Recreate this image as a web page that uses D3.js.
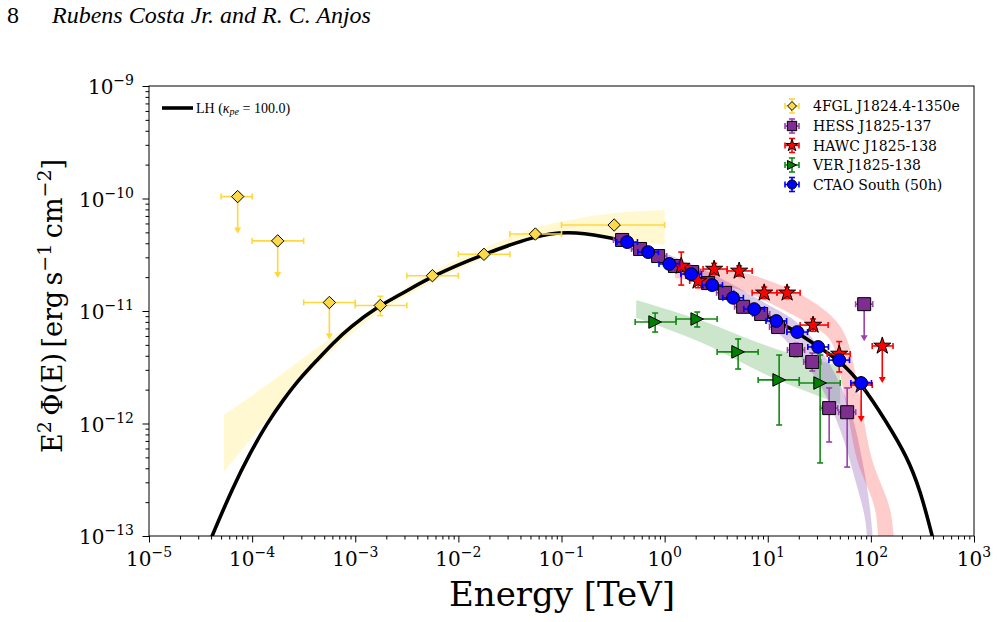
<!DOCTYPE html>
<html>
<head>
<meta charset="utf-8">
<script src="https://cdn.jsdelivr.net/npm/d3@7"></script>
<style>
  body { margin: 0; background: #fff; }
  svg { display: block; }
</style>
</head>
<body>
<div id="chart"></div>
<script>
// ---- data (E in TeV, E^2 Phi in erg s^-1 cm^-2) ----

// 4FGL J1824.4-1350e
const fermiE   = [7.24e-5, 1.77e-4, 5.61e-4, 1.75e-3, 5.60e-3, 1.77e-2, 5.58e-2, 0.324];
const fermiElo = [5.0e-5, 1.0e-4, 3.16e-4, 1.0e-3, 3.16e-3, 1.0e-2, 3.16e-2, 0.1];
const fermiEhi = [1.0e-4, 3.16e-4, 1.0e-3, 3.16e-3, 1.0e-2, 3.16e-2, 0.1, 1.0];
const fermiF   = [1.04e-10, 4.2e-11, 1.19e-11, 1.12e-11, 2.06e-11, 3.19e-11, 4.83e-11, 5.81e-11];
const fermiFlo = [null, null, null, 9.1e-12, 1.93e-11, 2.99e-11, 4.53e-11, 5.45e-11];
const fermiFhi = [null, null, null, 1.35e-11, 2.20e-11, 3.40e-11, 5.15e-11, 6.20e-11];
const fermiUL  = [true, true, true, false, false, false, false, false];

// HESS J1825-137
const hessE   = [0.387, 0.578, 0.865, 1.26, 1.85, 2.64, 3.86, 5.77, 8.63, 12.6, 18.8, 27.0, 39.4, 58.9, 86.1];
const hessHalfBin = 0.083; // decades
const hessF   = [4.28e-11, 3.56e-11, 3.08e-11, 2.51e-11, 2.22e-11, 1.77e-11, 1.45e-11, 1.09e-11, 9.4e-12, 7.2e-12, 4.5e-12, 3.52e-12, 1.37e-12, 1.26e-12, 1.15e-11];
const hessFlo = [3.9e-11, 3.25e-11, 2.81e-11, 2.29e-11, 2.03e-11, 1.61e-11, 1.32e-11, 9.7e-12, 8.4e-12, 6.4e-12, 3.92e-12, 2.93e-12, 6.85e-13, 4.1e-13, null];
const hessFhi = [4.7e-11, 3.9e-11, 3.38e-11, 2.75e-11, 2.43e-11, 1.94e-11, 1.59e-11, 1.22e-11, 1.05e-11, 8.1e-12, 5.17e-12, 4.23e-12, 2.07e-12, 2.07e-12, null];
const hessUL  = [false, false, false, false, false, false, false, false, false, false, false, false, false, false, true];

// HAWC J1825-138
const hawcE   = [1.45, 2.11, 3.02, 5.28, 9.23, 15.4, 27.5, 49.3, 80.5, 129];
const hawcElo = [1.20, 1.75, 2.36, 4.04, 7.06, 12.3, 20.6, 37.7, 64.4, 103];
const hawcEhi = [1.74, 2.54, 4.04, 7.06, 12.3, 20.6, 38.5, 63.0, 103, 164];
const hawcF   = [2.51e-11, 1.85e-11, 2.36e-11, 2.27e-11, 1.45e-11, 1.45e-11, 7.5e-12, 4.15e-12, 2.2e-12, 4.89e-12];
const hawcFlo = [1.70e-11, 1.61e-11, 2.10e-11, 2.04e-11, 1.29e-11, 1.29e-11, 6.6e-12, 2.87e-12, null, null];
const hawcFhi = [3.34e-11, 2.13e-11, 2.65e-11, 2.52e-11, 1.63e-11, 1.63e-11, 8.5e-12, 5.35e-12, null, null];
const hawcUL  = [false, false, false, false, false, false, false, false, true, true];

// VER J1825-138
const verE   = [0.809, 2.07, 5.16, 12.9, 32.2];
const verElo = [0.518, 1.29, 3.23, 8.07, 20.2];
const verEhi = [1.29, 3.23, 8.07, 20.2, 50.4];
const verF   = [7.98e-12, 8.49e-12, 4.33e-12, 2.44e-12, 2.29e-12];
const verFlo = [6.50e-12, 7.21e-12, 3.05e-12, 9.7e-13, 4.46e-13];
const verFhi = [9.59e-12, 9.79e-12, 5.64e-12, 4.06e-12, 4.06e-12];

// CTAO South (50h)
const ctaoE   = [0.433, 0.692, 1.11, 1.81, 2.89, 4.61, 7.38, 12.1, 19.3, 30.8, 49.3, 80.5];
const ctaoHalfBin = 0.1; // decades
const ctaoF   = [4.10e-11, 3.34e-11, 2.62e-11, 2.13e-11, 1.70e-11, 1.31e-11, 1.04e-11, 8.15e-12, 6.50e-12, 4.79e-12, 3.66e-12, 2.29e-12];
const ctaoRelErr = [0.04, 0.04, 0.04, 0.04, 0.04, 0.05, 0.05, 0.05, 0.06, 0.07, 0.08, 0.10];

// LH model curve (kappa_pe = 100)
const lhE = [3.27e-5, 4.08e-5, 6.53e-5, 9.55e-5, 1.40e-4, 2.0e-4, 2.92e-4, 4.26e-4, 6.10e-4, 8.91e-4, 1.63e-3, 2.72e-3, 5.56e-3, 1.77e-2, 5.55e-2, 0.113, 0.277, 0.433, 0.692, 1.11, 1.81, 2.89, 4.61, 7.38, 12.1, 19.3, 30.8, 49.3, 80.5, 144, 225, 301, 394, 450];
const lhF = [6.1e-14, 1.0e-13, 2.73e-13, 5.47e-13, 1.01e-12, 1.62e-12, 2.54e-12, 3.66e-12, 5.20e-12, 7.21e-12, 1.09e-11, 1.39e-11, 2.05e-11, 3.21e-11, 4.65e-11, 5.14e-11, 4.55e-11, 4.10e-11, 3.34e-11, 2.62e-11, 2.13e-11, 1.70e-11, 1.31e-11, 1.04e-11, 8.15e-12, 6.50e-12, 4.79e-12, 3.66e-12, 2.29e-12, 1.01e-12, 5.04e-13, 2.56e-13, 1.0e-13, 6.1e-14];

// fit bands (upper edge / lower edge)
const fermiBandE  = [5.33e-5, 9.55e-5, 2.0e-4, 4.26e-4, 8.9e-4, 1.74e-3, 5.56e-3, 1.77e-2, 5.55e-2, 0.121, 0.324, 1.0];
const fermiBandHi = [1.19e-12, 1.72e-12, 2.81e-12, 4.69e-12, 7.5e-12, 1.13e-11, 2.22e-11, 3.63e-11, 5.47e-11, 6.44e-11, 7.43e-11, 7.91e-11];
const fermiBandLo = [3.71e-13, 7.13e-13, 1.62e-12, 3.31e-12, 6.12e-12, 9.79e-12, 1.81e-11, 2.96e-11, 4.46e-11, 5.04e-11, 4.46e-11, 3.86e-11];

const verBandE  = [0.530, 2.21, 11.3, 50.4];
const verBandHi = [1.25e-11, 8.3e-12, 4.69e-12, 3.24e-12];
const verBandLo = [8.7e-12, 5.3e-12, 2.54e-12, 1.49e-12];

const hessBandEhi = [0.370, 2.21, 8.43, 20.6, 40.3, 63.0, 82.4, 98.4, 108];
const hessBandHi  = [4.65e-11, 2.41e-11, 1.25e-11, 7.5e-12, 3.31e-12, 1.32e-12, 4.74e-13, 1.70e-13, 6.1e-14];
const hessBandElo = [0.370, 2.21, 8.43, 16.5, 32.2, 50.4, 70.5, 88.1, 94.2];
const hessBandLo  = [3.78e-11, 1.89e-11, 8.67e-12, 4.99e-12, 2.20e-12, 8.75e-13, 3.15e-13, 1.39e-13, 6.1e-14];

const hawcBandEhi = [1.26, 2.21, 5.40, 13.2, 25.8, 45.1, 58.9, 78.7, 103, 154, 172];
const hawcBandHi  = [2.51e-11, 2.41e-11, 2.22e-11, 1.70e-11, 1.25e-11, 8.3e-12, 5.52e-12, 1.62e-12, 4.74e-13, 1.70e-13, 6.1e-14];
const hawcBandElo = [1.26, 2.21, 5.40, 13.2, 25.8, 40.3, 56.4, 73.6, 110, 120];
const hawcBandLo  = [1.96e-11, 1.81e-11, 1.54e-11, 1.06e-11, 7.5e-12, 5.52e-12, 1.62e-12, 4.74e-13, 1.70e-13, 6.1e-14];

const xTickExp = [-5, -4, -3, -2, -1, 0, 1, 2, 3];
const yTickExp = [-13, -12, -11, -10, -9];

// ---- drawing ----
const W = 997, H = 622;
const SERIF = "'DejaVu Serif', serif";
const TIMES = "'Liberation Serif', 'Times New Roman', serif";

const svg = d3.select('#chart').append('svg')
  .attr('width', W).attr('height', H);

const x = d3.scaleLog().domain([1e-5, 1e3]).range([149, 974]);
const y = d3.scaleLog().domain([1e-13, 1e-9]).range([536, 86]);

svg.append('defs').append('clipPath').attr('id', 'plotclip')
  .append('rect').attr('x', 149).attr('y', 86).attr('width', 825).attr('height', 450);

const plot = svg.append('g').attr('clip-path', 'url(#plotclip)');

const smooth = d3.line().curve(d3.curveCatmullRom);

function band(Ehi, Fhi, Elo, Flo, color, opacity) {
  const top = smooth(Ehi.map((e, i) => [x(e), y(Fhi[i])]));
  const bot = smooth(Elo.map((e, i) => [x(e), y(Flo[i])]).reverse());
  plot.append('path')
    .attr('d', top + 'L' + bot.slice(1) + 'Z')
    .attr('fill', color)
    .attr('fill-opacity', opacity)
    .attr('stroke', 'none');
}

band(fermiBandE, fermiBandHi, fermiBandE, fermiBandLo, '#ffd700', 0.18);
band(verBandE, verBandHi, verBandE, verBandLo, '#008000', 0.2);
band(hessBandEhi, hessBandHi, hessBandElo, hessBandLo, '#9467bd', 0.35);
band(hawcBandEhi, hawcBandHi, hawcBandElo, hawcBandLo, '#ff0000', 0.2);

// model curve (B-spline through the read points, to iron out reading noise)
plot.append('path')
  .attr('d', d3.line().curve(d3.curveBasis)(lhE.map((e, i) => [x(e), y(lhF[i])])))
  .attr('fill', 'none')
  .attr('stroke', '#000')
  .attr('stroke-width', 3.6);

// marker shapes
const shapes = {
  diamond: r => `M0,${-r}L${r},0L0,${r}L${-r},0Z`,
  square: r => `M${-r},${-r}H${r}V${r}H${-r}Z`,
  circle: r => d3.symbol(d3.symbolCircle, Math.PI * r * r)(),
  triRight: r => `M${r},0L${-r},${-r}L${-r},${r}Z`,
  star: r => {
    const p = [];
    for (let k = 0; k < 10; k++) {
      const rad = k % 2 === 0 ? r : r * 0.382;
      const a = -Math.PI / 2 + k * Math.PI / 5;
      p.push([rad * Math.cos(a), rad * Math.sin(a)]);
    }
    return 'M' + p.map(q => q.join(',')).join('L') + 'Z';
  }
};

const CAP = 3, UL_LEN = 36;

function drawSeries(s) {
  const g = plot.append('g');
  const seg = (x1, y1, x2, y2) => g.append('line')
    .attr('x1', x1).attr('y1', y1).attr('x2', x2).attr('y2', y2)
    .attr('stroke', s.bar).attr('stroke-width', 1.6);

  s.E.forEach((e, i) => {
    const cx = x(e), cy = y(s.F[i]);
    const x0 = x(s.Elo[i]), x1 = x(s.Ehi[i]);
    seg(x0, cy, x1, cy);
    seg(x0, cy - CAP, x0, cy + CAP);
    seg(x1, cy - CAP, x1, cy + CAP);
    if (s.UL && s.UL[i]) {
      const ye = cy + UL_LEN;
      seg(cx, cy, cx, ye - 3);
      g.append('path')
        .attr('d', `M${cx - 3.5},${ye - 5}L${cx + 3.5},${ye - 5}L${cx},${ye + 1}Z`)
        .attr('fill', s.bar);
    } else if (s.Flo[i] != null) {
      const y0 = y(s.Flo[i]), y1 = y(s.Fhi[i]);
      seg(cx, y0, cx, y1);
      seg(cx - CAP, y0, cx + CAP, y0);
      seg(cx - CAP, y1, cx + CAP, y1);
    }
  });

  g.selectAll('path.mk')
    .data(s.E)
    .enter().append('path')
    .attr('class', 'mk')
    .attr('d', shapes[s.shape](s.r))
    .attr('transform', (e, i) => `translate(${x(e)},${y(s.F[i])})`)
    .attr('fill', s.fill)
    .attr('stroke', '#000')
    .attr('stroke-width', 1);
}

const fermi = {
  E: fermiE, Elo: fermiElo, Ehi: fermiEhi, F: fermiF, Flo: fermiFlo, Fhi: fermiFhi, UL: fermiUL,
  shape: 'diamond', r: 6.2, fill: '#fad94a', bar: '#ffd83c'
};
const hess = {
  E: hessE,
  Elo: hessE.map(e => e / Math.pow(10, hessHalfBin)),
  Ehi: hessE.map(e => e * Math.pow(10, hessHalfBin)),
  F: hessF, Flo: hessFlo, Fhi: hessFhi, UL: hessUL,
  shape: 'square', r: 6.5, fill: '#7d2e8e', bar: '#9a3fb0'
};
const hawc = {
  E: hawcE, Elo: hawcElo, Ehi: hawcEhi, F: hawcF, Flo: hawcFlo, Fhi: hawcFhi, UL: hawcUL,
  shape: 'star', r: 9, fill: '#ff0000', bar: '#ff0000'
};
const ver = {
  E: verE, Elo: verElo, Ehi: verEhi, F: verF, Flo: verFlo, Fhi: verFhi,
  shape: 'triRight', r: 6.3, fill: '#008000', bar: '#138a13'
};
const ctao = {
  E: ctaoE,
  Elo: ctaoE.map(e => e / Math.pow(10, ctaoHalfBin)),
  Ehi: ctaoE.map(e => e * Math.pow(10, ctaoHalfBin)),
  F: ctaoF,
  Flo: ctaoF.map((f, i) => f * (1 - ctaoRelErr[i])),
  Fhi: ctaoF.map((f, i) => f * (1 + ctaoRelErr[i])),
  shape: 'circle', r: 6.4, fill: '#0000ff', bar: '#0000ff'
};

[fermi, hess, hawc, ver, ctao].forEach(drawSeries);

// ---- axes ----
const minorTicks = (lo, hi) => {
  const out = [];
  for (let k = lo; k < hi; k++) for (let m = 2; m <= 9; m++) out.push(m * Math.pow(10, k));
  return out;
};
const xMajors = xTickExp.map(k => Math.pow(10, k));
const yMajors = yTickExp.map(k => Math.pow(10, k));

const axisStyle = g => {
  g.select('.domain').remove();
  g.selectAll('line').attr('stroke', '#000').attr('stroke-width', 1);
};

svg.append('g').attr('transform', 'translate(0,536)')
  .call(d3.axisBottom(x).tickValues(minorTicks(-5, 3)).tickSize(3.5).tickFormat(''))
  .call(axisStyle);
svg.append('g').attr('transform', 'translate(0,536)')
  .call(d3.axisBottom(x).tickValues(xMajors).tickSize(6.5).tickFormat(''))
  .call(axisStyle);
svg.append('g').attr('transform', 'translate(149,0)')
  .call(d3.axisLeft(y).tickValues(minorTicks(-13, -9)).tickSize(3.5).tickFormat(''))
  .call(axisStyle);
svg.append('g').attr('transform', 'translate(149,0)')
  .call(d3.axisLeft(y).tickValues(yMajors).tickSize(6.5).tickFormat(''))
  .call(axisStyle);

svg.append('rect')
  .attr('x', 149).attr('y', 86).attr('width', 825).attr('height', 450)
  .attr('fill', 'none').attr('stroke', '#000').attr('stroke-width', 1);

function posLabel(sel, exp) {
  sel.append('tspan').text('10');
  sel.append('tspan').attr('dy', -9).attr('font-size', 14).text(exp < 0 ? '\u2212' + (-exp) : String(exp));
}

xTickExp.forEach(k => {
  const t = svg.append('text')
    .attr('x', x(Math.pow(10, k))).attr('y', 566)
    .attr('text-anchor', 'middle')
    .attr('font-family', SERIF).attr('font-size', 20).attr('fill', '#000');
  posLabel(t, k);
});
yTickExp.forEach(k => {
  const t = svg.append('text')
    .attr('x', 134).attr('y', y(Math.pow(10, k)) + 8)
    .attr('text-anchor', 'end')
    .attr('font-family', SERIF).attr('font-size', 20).attr('fill', '#000');
  posLabel(t, k);
});

// axis titles
svg.append('text')
  .attr('x', 562).attr('y', 606)
  .attr('text-anchor', 'middle')
  .attr('font-family', SERIF).attr('font-size', 34)
  .text('Energy [TeV]');

const yl = svg.append('text')
  .attr('transform', 'translate(62,306) rotate(-90)')
  .attr('text-anchor', 'middle')
  .attr('font-family', SERIF).attr('font-size', 27);
yl.append('tspan').text('E');
yl.append('tspan').attr('dy', -11).attr('font-size', 19).text('2');
yl.append('tspan').attr('dy', 11).text('\u2009\u03A6(E)\u2009[erg\u2009s');
yl.append('tspan').attr('dy', -11).attr('font-size', 19).text('\u22121');
yl.append('tspan').attr('dy', 11).text('\u2009cm');
yl.append('tspan').attr('dy', -11).attr('font-size', 19).text('\u22122');
yl.append('tspan').attr('dy', 11).text(']');

// ---- legends ----
svg.append('line')
  .attr('x1', 162).attr('x2', 193).attr('y1', 108).attr('y2', 108)
  .attr('stroke', '#000').attr('stroke-width', 3.6);
const lhText = svg.append('text')
  .attr('x', 196).attr('y', 112.5)
  .attr('font-family', TIMES).attr('font-size', 14);
lhText.append('tspan').text('LH (');
lhText.append('tspan').attr('font-style', 'italic').text('\u03BA');
lhText.append('tspan').attr('font-style', 'italic').attr('font-size', 10).attr('dy', 2.5).text('pe');
lhText.append('tspan').attr('dy', -2.5).text(' = 100.0)');

const legendItems = [
  { s: fermi, label: '4FGL J1824.4-1350e' },
  { s: hess, label: 'HESS J1825-137' },
  { s: hawc, label: 'HAWC J1825-138' },
  { s: ver, label: 'VER J1825-138' },
  { s: ctao, label: 'CTAO South (50h)' }
];
const legendY = [106, 126, 145.5, 165, 184.5];
legendItems.forEach((it, i) => {
  const cy = legendY[i], cx = 792;
  const g = svg.append('g');
  const seg = (a, b, c, d) => g.append('line')
    .attr('x1', a).attr('y1', b).attr('x2', c).attr('y2', d)
    .attr('stroke', it.s.bar).attr('stroke-width', 1.6);
  seg(cx - 7, cy, cx + 7, cy);
  seg(cx - 7, cy - 3, cx - 7, cy + 3);
  seg(cx + 7, cy - 3, cx + 7, cy + 3);
  seg(cx, cy - 7, cx, cy + 7);
  seg(cx - 3, cy - 7, cx + 3, cy - 7);
  seg(cx - 3, cy + 7, cx + 3, cy + 7);
  g.append('path')
    .attr('d', shapes[it.s.shape](it.s.r * 0.72))
    .attr('transform', `translate(${cx},${cy})`)
    .attr('fill', it.s.fill).attr('stroke', '#000').attr('stroke-width', 1);
  svg.append('text')
    .attr('x', 813).attr('y', cy + 5)
    .attr('font-family', SERIF).attr('font-size', 14)
    .text(it.label);
});

// ---- page header ----
svg.append('text')
  .attr('x', 7).attr('y', 23)
  .attr('font-family', TIMES).attr('font-size', 24)
  .text('8');
svg.append('text')
  .attr('x', 52).attr('y', 23)
  .attr('font-family', TIMES).attr('font-size', 24).attr('font-style', 'italic')
  .text('Rubens Costa Jr. and R. C. Anjos');
</script>
</body>
</html>
